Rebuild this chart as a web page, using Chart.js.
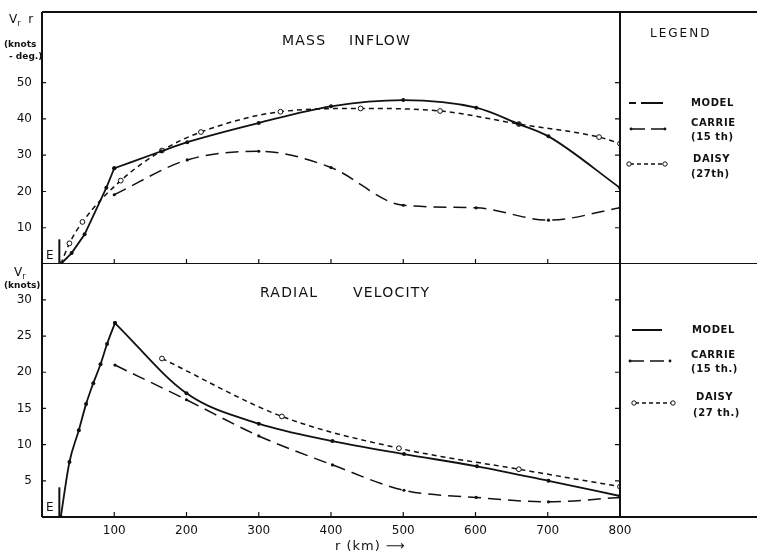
<!DOCTYPE html>
<html>
<head>
<meta charset="utf-8">
<script src="https://cdn.jsdelivr.net/npm/chart.js@4.4.1/dist/chart.umd.min.js"></script>
<style>
  body { margin: 0; background: #fff; }
  #wrap { position: relative; width: 757px; height: 556px; overflow: hidden; background: #fff;
          font-family: "DejaVu Sans", sans-serif; color: #111; }
  canvas { position: absolute; left: 0; }
  #topCanvas { top: 0; }
  #bottomCanvas { top: 263px; }
  .txt { position: absolute; white-space: nowrap; line-height: 1; }
  .title { font-size: 14px; letter-spacing: 1.2px; }
  .leg { font-size: 10px; font-weight: bold; letter-spacing: 0.6px; }
  .axt { font-size: 9px; font-weight: bold; }
  #legendSvg { position: absolute; left: 0; top: 0; }
</style>
</head>
<body>
<div id="wrap">
  <canvas id="topCanvas" width="757" height="264"></canvas>
  <canvas id="bottomCanvas" width="757" height="293"></canvas>

  <svg id="legendSvg" width="757" height="556"></svg>

  <!-- axis titles -->
  <div class="txt" style="left:9px; top:13px; font-size:12px;">V<sub style="font-size:8px;">r</sub>&nbsp;&nbsp;r</div>
  <div class="txt axt" style="left:4px; top:40px;">(knots</div>
  <div class="txt axt" style="left:9px; top:52px;">- deg.)</div>
  <div class="txt" style="left:14px; top:266px; font-size:12px;">V<sub style="font-size:8px;">r</sub></div>
  <div class="txt axt" style="left:4px; top:281px;">(knots)</div>
  <div class="txt" style="left:46px; top:249px; font-size:12px;">E</div>
  <div class="txt" style="left:46px; top:501px; font-size:12px;">E</div>
  <div class="txt" style="left:335px; top:539px; font-size:13px; letter-spacing:1px;">r (km) &#10230;</div>

  <!-- panel titles -->
  <div class="txt title" style="left:282px; top:33px;">MASS</div>
  <div class="txt title" style="left:349px; top:33px;">INFLOW</div>
  <div class="txt title" style="left:260px; top:285px;">RADIAL</div>
  <div class="txt title" style="left:353px; top:285px;">VELOCITY</div>

  <!-- legend text -->
  <div class="txt" style="left:650px; top:27px; font-size:12px; letter-spacing:2px;">LEGEND</div>
  <div class="txt leg" style="left:691px; top:98px;">MODEL</div>
  <div class="txt leg" style="left:691px; top:118px;">CARRIE</div>
  <div class="txt leg" style="left:691px; top:132px;">(15 th)</div>
  <div class="txt leg" style="left:693px; top:154px;">DAISY</div>
  <div class="txt leg" style="left:691px; top:169px;">(27th)</div>

  <div class="txt leg" style="left:692px; top:325px;">MODEL</div>
  <div class="txt leg" style="left:691px; top:350px;">CARRIE</div>
  <div class="txt leg" style="left:691px; top:364px;">(15 th.)</div>
  <div class="txt leg" style="left:696px; top:392px;">DAISY</div>
  <div class="txt leg" style="left:693px; top:408px;">(27 th.)</div>
</div>

<script>
// x axis (r in km)
const xTicks = [100, 200, 300, 400, 500, 600, 700, 800];
const topTicks = [10, 20, 30, 40, 50];
const bottomTicks = [5, 10, 15, 20, 25, 30];
const eyeR = 24;

// mass inflow (Vr r, knots-deg)
const modelTopRiseR = [26, 41, 59, 89, 100];
const modelTopRiseV = [0, 3, 8.2, 21, 26.4];
const modelTopR = [100, 165, 201, 300, 400, 500, 601, 660, 701, 800];
const modelTopV = [26.4, 31.1, 33.6, 38.9, 43.5, 45.2, 43.1, 38.6, 35.2, 21];
const carrieTopR = [100, 201, 300, 400, 500, 601, 701, 800];
const carrieTopV = [19.1, 28.7, 31.1, 26.6, 16.2, 15.5, 12.1, 15.5];
const daisyTopR = [26, 38, 56, 109, 166, 220, 330, 441, 551, 660, 771, 800];
const daisyTopV = [0, 5.7, 11.6, 23, 31.3, 36.4, 42, 42.9, 42.2, 38.6, 35, 33.2];

// radial velocity (Vr, knots)
const modelBotRiseR = [26, 38, 51, 61, 71, 81, 90, 101];
const modelBotRiseV = [0, 7.6, 12, 15.6, 18.5, 21.1, 23.9, 26.8];
const modelBotR = [101, 200, 300, 402, 501, 602, 701, 800];
const modelBotV = [26.8, 17.1, 12.9, 10.5, 8.7, 7.0, 5.0, 2.9];
const carrieBotR = [101, 200, 300, 402, 501, 601, 701, 800];
const carrieBotV = [21.0, 16.2, 11.2, 7.2, 3.7, 2.7, 2.1, 2.7];
const daisyBotR = [166, 332, 494, 660, 800];
const daisyBotV = [21.9, 13.9, 9.5, 6.6, 4.2];

const ink = "#111";

function pts(rs, vs) {
  return rs.map((r, i) => ({ x: r, y: vs[i] }));
}

function modelSet(rs, vs, curved) {
  return {
    data: pts(rs, vs),
    borderColor: ink,
    borderWidth: 1.8,
    pointRadius: 2,
    pointBackgroundColor: ink,
    pointBorderWidth: 0,
    tension: curved ? 0.4 : 0,
    cubicInterpolationMode: curved ? "monotone" : "default"
  };
}

function carrieSet(rs, vs) {
  return {
    data: pts(rs, vs),
    borderColor: ink,
    borderWidth: 1.5,
    borderDash: [13, 7],
    pointRadius: 1.6,
    pointBackgroundColor: ink,
    pointBorderWidth: 0,
    cubicInterpolationMode: "monotone"
  };
}

function daisySet(rs, vs) {
  return {
    data: pts(rs, vs),
    borderColor: ink,
    borderWidth: 1.5,
    borderDash: [5, 4],
    pointRadius: 2.4,
    pointBackgroundColor: "#fff",
    pointBorderColor: ink,
    pointBorderWidth: 1,
    cubicInterpolationMode: "monotone"
  };
}

function eyeSet(h) {
  return {
    data: [{ x: eyeR, y: 0 }, { x: eyeR, y: h }],
    borderColor: ink,
    borderWidth: 2,
    pointRadius: 0
  };
}

// frame and inward tick marks, like the hand drawn original
const framePlugin = {
  id: "frame",
  afterDraw(chart, args, opts) {
    const { ctx, chartArea: a, scales } = chart;
    const x = scales.x, y = scales.y;
    ctx.save();
    ctx.strokeStyle = ink;
    ctx.lineWidth = 2;
    ctx.beginPath();
    ctx.moveTo(a.left, a.top); ctx.lineTo(a.left, a.bottom);
    ctx.moveTo(a.right, a.top); ctx.lineTo(a.right, a.bottom);
    ctx.moveTo(a.left, a.bottom); ctx.lineTo(chart.width, a.bottom);
    if (opts.top) {
      ctx.moveTo(a.left, a.top); ctx.lineTo(chart.width, a.top);
    }
    ctx.stroke();

    ctx.lineWidth = 1.2;
    ctx.beginPath();
    xTicks.forEach(v => {
      if (v >= 800) return;
      const px = x.getPixelForValue(v);
      ctx.moveTo(px, a.bottom); ctx.lineTo(px, a.bottom - 5);
    });
    opts.yTicks.forEach(v => {
      const py = y.getPixelForValue(v);
      ctx.moveTo(a.left, py); ctx.lineTo(a.left + 4, py);
      ctx.moveTo(a.right, py); ctx.lineTo(a.right - 5, py);
    });
    ctx.stroke();
    ctx.restore();
  }
};

function noPad(s) {
  s.paddingTop = 0;
  s.paddingBottom = 0;
  s.paddingLeft = 0;
  s.paddingRight = 0;
}

function makeChart(id, datasets, yMax, yTicks, isTop) {
  const yStep = yTicks[1] - yTicks[0];
  const yLast = yTicks[yTicks.length - 1];
  return new Chart(document.getElementById(id), {
    type: "line",
    data: { datasets },
    options: {
      responsive: false,
      animation: false,
      layout: { autoPadding: false, padding: { top: isTop ? 12 : 0, right: 137, left: 0, bottom: 0 } },
      plugins: {
        legend: { display: false },
        tooltip: { enabled: false },
        frame: { top: isTop, yTicks }
      },
      scales: {
        x: {
          type: "linear",
          min: 0,
          max: 800,
          grid: { display: false, drawTicks: false },
          border: { display: false },
          ticks: {
            display: !isTop,
            stepSize: 100,
            padding: 7,
            color: ink,
            font: { family: "DejaVu Sans", size: 12 },
            callback: v => (v > 0 ? v : null)
          },
          afterFit: s => { s.height = isTop ? 0 : 39; noPad(s); }
        },
        y: {
          min: 0,
          max: yMax,
          grid: { display: false, drawTicks: false },
          border: { display: false },
          ticks: {
            stepSize: yStep,
            padding: 10,
            color: ink,
            font: { family: "DejaVu Sans", size: 12 },
            callback: v => (v > 0 && v <= yLast ? v : null)
          },
          afterFit: s => { s.width = 42; noPad(s); }
        }
      }
    },
    plugins: [framePlugin]
  });
}

makeChart("topCanvas", [
  modelSet(modelTopRiseR, modelTopRiseV, false),
  modelSet(modelTopR, modelTopV, true),
  carrieSet(carrieTopR, carrieTopV),
  daisySet(daisyTopR, daisyTopV),
  eyeSet(6.8)
], 69.5, topTicks, true);

makeChart("bottomCanvas", [
  modelSet(modelBotRiseR, modelBotRiseV, true),
  modelSet(modelBotR, modelBotV, true),
  carrieSet(carrieBotR, carrieBotV),
  daisySet(daisyBotR, daisyBotV),
  eyeSet(4.1)
], 35.1, bottomTicks, false);

// legend line samples
const svg = document.getElementById("legendSvg");
function svgEl(tag, attrs) {
  const el = document.createElementNS("http://www.w3.org/2000/svg", tag);
  Object.entries(attrs).forEach(([k, v]) => el.setAttribute(k, v));
  svg.appendChild(el);
}
function sampleLine(x1, x2, y, dash, w) {
  svgEl("line", { x1, x2, y1: y, y2: y, stroke: ink, "stroke-width": w, "stroke-dasharray": dash });
}
function dot(cx, cy, r) {
  svgEl("circle", { cx, cy, r, fill: ink });
}
function ring(cx, cy) {
  svgEl("circle", { cx, cy, r: 2.2, fill: "#fff", stroke: ink, "stroke-width": 1 });
}

// top legend
sampleLine(629, 663, 103, "7 5 40", 1.8);
sampleLine(631, 665, 129, "14 6", 1.5);
dot(631, 129, 1.4); dot(665, 129, 1.4);
sampleLine(630, 663, 164, "4 3", 1.4);
ring(629, 164); ring(665, 164);

// bottom legend
sampleLine(632, 662, 330, "none", 2);
sampleLine(630, 670, 361, "14 6", 1.5);
dot(630, 361, 1.4); dot(670, 361, 1.4);
sampleLine(635, 671, 403, "4 3", 1.4);
ring(634, 403); ring(673, 403);
</script>
</body>
</html>
